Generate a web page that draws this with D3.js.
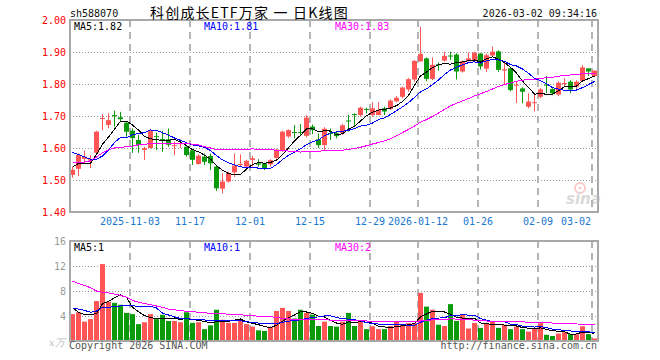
<!DOCTYPE html>
<html><head><meta charset="utf-8">
<script src="https://cdn.jsdelivr.net/npm/d3@7"></script>
<style>
html,body{margin:0;padding:0;background:#fff;}
svg{display:block;}
text{font-family:"DejaVu Sans Mono","Liberation Mono",monospace;font-size:10px;}
</style></head><body>
<svg id="c" width="660" height="360"></svg>
<script>
const dates = ["2025-10-20","2025-10-21","2025-10-22","2025-10-23","2025-10-24","2025-10-27","2025-10-28","2025-10-29","2025-10-30","2025-10-31",
"2025-11-03","2025-11-04","2025-11-05","2025-11-06","2025-11-07","2025-11-10","2025-11-11","2025-11-12","2025-11-13","2025-11-14",
"2025-11-17","2025-11-18","2025-11-19","2025-11-20","2025-11-21","2025-11-24","2025-11-25","2025-11-26","2025-11-27","2025-11-28",
"2025-12-01","2025-12-02","2025-12-03","2025-12-04","2025-12-05","2025-12-08","2025-12-09","2025-12-10","2025-12-11","2025-12-12",
"2025-12-15","2025-12-16","2025-12-17","2025-12-18","2025-12-19","2025-12-22","2025-12-23","2025-12-24","2025-12-25","2025-12-26",
"2025-12-29","2025-12-30","2025-12-31","2026-01-05","2026-01-06","2026-01-07","2026-01-08","2026-01-09","2026-01-12","2026-01-13",
"2026-01-14","2026-01-15","2026-01-16","2026-01-19","2026-01-20","2026-01-21","2026-01-22","2026-01-23","2026-01-26","2026-01-27",
"2026-01-28","2026-01-29","2026-01-30","2026-02-02","2026-02-03","2026-02-04","2026-02-05","2026-02-06","2026-02-09","2026-02-10",
"2026-02-11","2026-02-12","2026-02-13","2026-02-24","2026-02-25","2026-02-26","2026-02-27","2026-03-02"];

const open = [1.516,1.535,1.566,1.561,1.585,1.692,1.672,1.703,1.696,1.679,
1.654,1.625,1.594,1.600,1.637,1.628,1.627,1.606,1.612,1.604,
1.593,1.550,1.573,1.575,1.542,1.473,1.495,1.524,1.547,1.542,
1.563,1.552,1.552,1.549,1.569,1.590,1.636,1.650,1.650,1.638,
1.667,1.627,1.609,1.647,1.646,1.646,1.686,1.706,1.703,1.722,
1.703,1.703,1.724,1.722,1.746,1.760,1.783,1.814,1.871,1.880,
1.816,1.862,1.873,1.889,1.892,1.839,1.871,1.871,1.895,1.848,
1.889,1.902,1.842,1.849,1.795,1.786,1.729,1.740,1.760,1.798,
1.784,1.767,1.800,1.807,1.792,1.810,1.849,1.825];
const high = [1.542,1.583,1.592,1.578,1.654,1.706,1.709,1.717,1.713,1.682,
1.661,1.641,1.604,1.656,1.648,1.654,1.661,1.620,1.627,1.605,
1.594,1.580,1.583,1.583,1.544,1.521,1.526,1.583,1.580,1.563,
1.575,1.565,1.554,1.565,1.598,1.654,1.658,1.672,1.675,1.703,
1.673,1.645,1.665,1.661,1.650,1.675,1.703,1.708,1.729,1.726,
1.743,1.743,1.729,1.752,1.762,1.792,1.818,1.875,1.979,1.883,
1.883,1.867,1.901,1.901,1.896,1.873,1.898,1.901,1.897,1.895,
1.917,1.905,1.870,1.852,1.806,1.790,1.771,1.771,1.787,1.825,
1.787,1.808,1.818,1.812,1.812,1.859,1.849,1.842];
const low = [1.507,1.512,1.556,1.537,1.582,1.656,1.662,1.667,1.684,1.635,
1.585,1.585,1.563,1.598,1.594,1.588,1.604,1.578,1.600,1.573,
1.547,1.548,1.547,1.531,1.466,1.458,1.492,1.510,1.542,1.539,
1.542,1.542,1.531,1.542,1.566,1.588,1.632,1.630,1.641,1.633,
1.643,1.600,1.594,1.625,1.630,1.641,1.651,1.667,1.698,1.708,
1.698,1.703,1.703,1.719,1.743,1.755,1.776,1.807,1.870,1.809,
1.8125,1.842,1.870,1.875,1.814,1.836,1.871,1.867,1.845,1.838,
1.885,1.838,1.797,1.777,1.740,1.740,1.724,1.714,1.755,1.771,
1.768,1.762,1.792,1.771,1.781,1.808,1.825,1.825];
const close = [1.532,1.578,1.573,1.565,1.651,1.694,1.687,1.699,1.690,1.651,
1.631,1.610,1.599,1.653,1.634,1.626,1.610,1.609,1.615,1.578,
1.563,1.576,1.557,1.552,1.474,1.495,1.521,1.545,1.550,1.560,
1.568,1.548,1.537,1.562,1.595,1.651,1.656,1.648,1.648,1.695,
1.656,1.609,1.660,1.645,1.637,1.671,1.683,1.704,1.726,1.720,
1.724,1.719,1.714,1.748,1.757,1.789,1.815,1.872,1.894,1.816,
1.860,1.860,1.888,1.887,1.839,1.871,1.880,1.898,1.855,1.890,
1.901,1.844,1.846,1.781,1.798,1.776,1.745,1.743,1.783,1.796,
1.771,1.804,1.803,1.783,1.807,1.852,1.839,1.842];
const volume = [4.3,4.6,3.1,3.5,6.4,12.3,6.3,6.1,5.8,4.5,
4.3,2.7,3.0,4.3,3.5,4.2,3.2,3.2,3.0,4.6,
2.9,3.0,1.9,2.5,5.0,3.4,2.9,2.9,3.4,2.7,
2.3,1.7,1.6,2.3,4.8,5.3,4.8,3.6,5.0,4.5,
4.2,2.4,3.1,2.4,2.3,3.1,4.5,2.4,3.2,1.9,
2.35,1.9,1.9,2.4,3.2,2.7,2.85,2.85,7.7,5.5,
5.0,2.6,2.4,5.9,3.2,4.2,2.0,2.9,2.1,2.85,
3.1,2.1,2.6,1.9,2.3,1.9,1.5,2.0,2.85,1.0,
0.8,1.2,1.4,1.1,1.1,2.35,1.1,0.4];

// moving-average values for the first days (they depend on days before the window)
const priceMa5Head = [1.540,1.552,1.552,1.552];
const priceMa10Head = [1.586,1.580,1.572,1.565,1.565,1.575,1.594,1.617,1.633];
const priceMa30Head = [1.555,1.555,1.556,1.560,1.572,1.585,1.594,1.600,1.602,1.604,1.606,1.610,1.612,1.613,1.614,1.615,1.615,1.615,1.615,1.614,1.612,1.610,1.604,1.600,1.595,1.594,1.594,1.594,1.595];
const volMa5Head = [5.3,4.6,4.2,4.2];
const volMa10Head = [5.3,5.1,4.9,4.6,4.8,5.4,5.4,5.5,5.6];
const volMa30Head = [9.6,9.2,8.9,8.5,8.0,7.8,7.7,7.5,7.3,7.0,6.5,6.2,6.0,5.8,5.6,5.4,5.1,5.0,4.85,4.75,4.7,4.6,4.5,4.45,4.4,4.35,4.3,4.25,4.2];

const tickDates = ["2025-11-03","2025-11-17","2025-12-01","2025-12-15","2025-12-29","2026-01-12","2026-01-26","2026-02-09","2026-03-02"];
const tickLabels = ["2025-11-03","11-17","12-01","12-15","12-29","2026-01-12","01-26","02-09","03-02"];
const priceTicks = [1.40,1.50,1.60,1.70,1.80,1.90,2.00];
const volTicks = [4,8,12,16];
const priceLegend = ["MA5:1.82","MA10:1.81","MA30:1.83"];
const volLegend = ["MA5:1","MA10:1","MA30:2"];
const maColors = ["#000000","#0000ff","#ff00ff"];
const symbol = "sh588070";
const title = "科创成长ETF万家 一 日K线图";
const stamp = "2026-03-02 09:34:16";

const UP = "#ff5555", DOWN = "#0a9a0a";
const L = 70, R = 598, pT = 20, pB = 212, vT = 241, vB = 341;
const svg = d3.select("#c");

const x = d3.scaleBand().domain(dates).range([L, R]).paddingInner(0).paddingOuter(0);
const y = d3.scaleLinear().domain([1.4, 2.0]).range([pB, pT]);
const yv = d3.scaleLinear().domain([0, 16]).range([vB, vT]);
const cx = d => x(d) + 2.5;

function ma(vals, n, head) {
  return vals.map((v, i) => i < n - 1 ? head[i] : d3.mean(vals.slice(i - n + 1, i + 1)));
}

// grid
function grid(top, bottom, scale, ticks) {
  svg.append("g").selectAll("line").data(ticks).join("line")
    .attr("x1", L).attr("x2", R)
    .attr("y1", d => Math.round(scale(d)) + 0.5).attr("y2", d => Math.round(scale(d)) + 0.5)
    .attr("stroke", "#999").attr("stroke-dasharray", "1,2");
  svg.append("g").selectAll("line").data(tickDates).join("line")
    .attr("x1", d => x(d)).attr("x2", d => x(d))
    .attr("y1", top).attr("y2", bottom)
    .attr("stroke", "#b4b4b4").attr("stroke-width", 2).attr("stroke-dasharray", "7,5");
}
grid(pT, pB, y, priceTicks.slice(1, -1));
grid(vT, vB, yv, volTicks.slice(0, -1));

// candles
const idx = d3.range(dates.length);
const cg = svg.append("g");
cg.selectAll("line").data(idx).join("line")
  .attr("x1", i => cx(dates[i])).attr("x2", i => cx(dates[i]))
  .attr("y1", i => y(high[i])).attr("y2", i => y(low[i]))
  .attr("stroke", i => close[i] >= open[i] ? UP : DOWN).attr("stroke-width", 1);
cg.selectAll("rect").data(idx).join("rect")
  .attr("x", i => x(dates[i])).attr("width", 5)
  .attr("y", i => y(Math.max(open[i], close[i])))
  .attr("height", i => Math.max(1, Math.abs(y(open[i]) - y(close[i]))))
  .attr("fill", i => close[i] >= open[i] ? UP : DOWN);

// volume bars
svg.append("g").selectAll("rect").data(idx).join("rect")
  .attr("x", i => x(dates[i])).attr("width", 5)
  .attr("y", i => yv(volume[i])).attr("height", i => vB - yv(volume[i]))
  .attr("fill", i => close[i] >= open[i] ? UP : DOWN);

// MA lines
function maLines(vals, heads, scale) {
  [5, 10, 30].forEach((n, k) => {
    const m = ma(vals, n, heads[k]);
    const line = d3.line().x((v, i) => cx(dates[i])).y(v => scale(v));
    svg.append("path").attr("d", line(m)).attr("fill", "none")
      .attr("stroke", maColors[k]).attr("stroke-width", 1)
      .attr("shape-rendering", "crispEdges");
  });
}
maLines(close, [priceMa5Head, priceMa10Head, priceMa30Head], y);
maLines(volume, [volMa5Head, volMa10Head, volMa30Head], yv);

// frames
[[pT, pB], [vT, vB]].forEach(([t, b]) => {
  svg.append("rect").attr("x", L).attr("y", t).attr("width", R - L).attr("height", b - t)
    .attr("fill", "none").attr("stroke", "#a8a8a8").attr("stroke-width", 2);
});

// axes
const ya = svg.append("g").attr("transform", `translate(${L},0)`)
  .call(d3.axisLeft(y).tickValues(priceTicks).tickFormat(d3.format(".2f")).tickSize(0).tickPadding(4));
ya.select(".domain").remove();
ya.selectAll("text").attr("fill", "#ff0000").style("font-family", '"DejaVu Sans Mono",monospace').style("font-size", "10px");

const va = svg.append("g").attr("transform", `translate(${L},0)`)
  .call(d3.axisLeft(yv).tickValues(volTicks).tickFormat(d3.format("d")).tickSize(0).tickPadding(4));
va.select(".domain").remove();
va.selectAll("text").attr("fill", "#9a9a9a").style("font-family", '"DejaVu Sans Mono",monospace').style("font-size", "10px");

const xa = svg.append("g").attr("transform", `translate(${-x.bandwidth() / 2},${pB})`)
  .call(d3.axisBottom(x).tickValues(tickDates).tickFormat((d, i) => tickLabels[i]).tickSize(0).tickPadding(6));
xa.select(".domain").remove();
xa.selectAll("text").attr("fill", "#1a78d0").style("font-family", '"DejaVu Sans Mono",monospace').style("font-size", "10px");
xa.selectAll(".tick").each(function(d) {
  const t = d3.select(this).select("text");
  const w = t.node().getComputedTextLength();
  const px = x(d);
  if (px + w / 2 > R - 4) t.attr("text-anchor", "end").attr("x", -1);
});

// legends
const legX = [74, 204, 335];
priceLegend.forEach((s, k) => svg.append("text").attr("x", legX[k]).attr("y", 30).attr("fill", maColors[k]).text(s));
volLegend.forEach((s, k) => svg.append("text").attr("x", legX[k]).attr("y", 251).attr("fill", maColors[k]).text(s));

// header
svg.append("text").attr("x", 70).attr("y", 16.5).attr("fill", "#111").text(symbol);
svg.append("text").attr("x", 150).attr("y", 17.5).attr("fill", "#000")
  .style("font-family", '"Noto Sans CJK SC",sans-serif').style("font-size", "14px")
  .style("white-space", "pre").style("letter-spacing", "1.2px").text(title);
svg.append("text").attr("x", 597).attr("y", 16.5).attr("text-anchor", "end").attr("fill", "#111").text(stamp);

// footer
svg.append("text").attr("x", 69).attr("y", 349).attr("fill", "#555").text("Copyright 2026 SINA.COM");
svg.append("text").attr("x", 597).attr("y", 349).attr("text-anchor", "end").attr("fill", "#555").text("http://finance.sina.com.cn");
svg.append("text").attr("x", 49).attr("y", 346).attr("fill", "#bbb")
  .style("font-family", '"DejaVu Serif",serif').style("font-style", "italic").style("font-size", "10px").text("x万");

// watermark
const wm = svg.append("g").attr("opacity", 0.55);
wm.append("circle").attr("cx", 580).attr("cy", 188).attr("r", 5).attr("fill", "none").attr("stroke", "#f0a0a0").attr("stroke-width", 2);
wm.append("circle").attr("cx", 580).attr("cy", 188).attr("r", 1.5).attr("fill", "#f0a0a0");
wm.append("text").attr("x", 566).attr("y", 204).attr("fill", "#bbb")
  .style("font-family", '"DejaVu Sans",sans-serif').style("font-weight", "bold").style("font-style", "italic").style("font-size", "15px").text("sina");
</script>
</body></html>
